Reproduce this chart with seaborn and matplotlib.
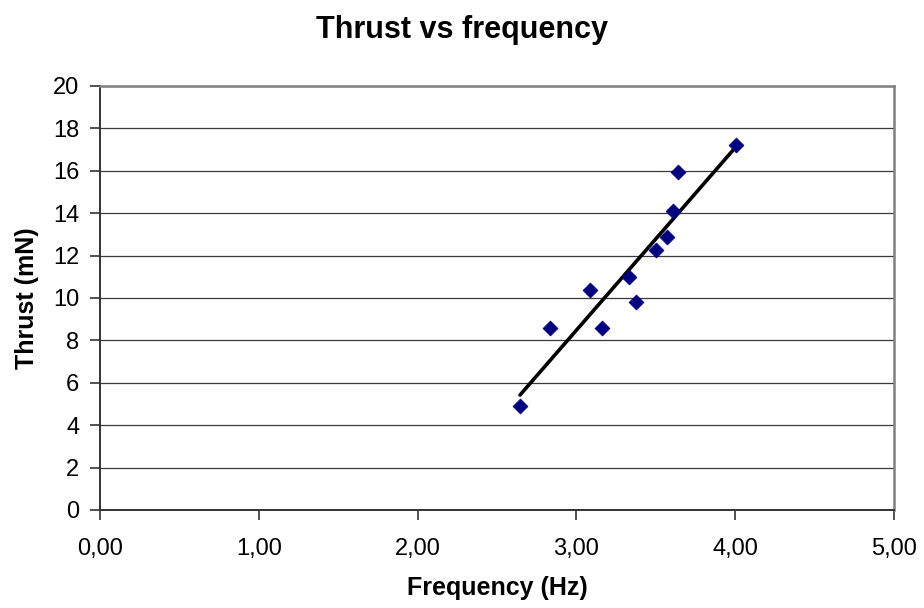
import matplotlib
matplotlib.use("Agg")
import matplotlib.pyplot as plt
import seaborn as sns
import pandas as pd
from matplotlib.ticker import FuncFormatter, MultipleLocator

frequency = [2.645, 2.834, 3.086, 3.161, 3.33, 3.375, 3.50, 3.568, 3.61, 3.64, 4.005]
thrust = [4.9, 8.58, 10.36, 8.58, 11.0, 9.81, 12.26, 12.9, 14.09, 15.94, 17.2]

df = pd.DataFrame({"Frequency (Hz)": frequency, "Thrust (mN)": thrust})

sns.set_theme(style="white")
plt.rcParams['font.family'] = ['Liberation Sans', 'DejaVu Sans']
plt.rcParams['text.color'] = 'black'
plt.rcParams['axes.labelcolor'] = 'black'

fig = plt.figure(figsize=(9.24, 6.08), dpi=100)
ax = fig.add_axes([100/924, 1-510/608, (894-100)/924, (510-86)/608])

sns.regplot(data=df, x="Frequency (Hz)", y="Thrust (mN)", ax=ax, ci=None,
            marker="D",
            scatter_kws=dict(s=58, color="#000080", edgecolor="#000080", linewidths=0.5,
                             alpha=1.0, zorder=4),
            line_kws=dict(color="black", lw=2.6, zorder=3))

ax.set_xlim(0, 5)
ax.set_ylim(0, 20)
ax.xaxis.set_major_locator(MultipleLocator(1))
ax.yaxis.set_major_locator(MultipleLocator(2))
ax.xaxis.set_major_formatter(FuncFormatter(lambda v, p: f"{v:.2f}".replace(".", ",")))
ax.yaxis.set_major_formatter(FuncFormatter(lambda v, p: f"{int(round(v))}"))

ax.grid(axis="y", color="#3a3a3a", lw=0.9)
ax.grid(axis="x", visible=False)
ax.set_axisbelow(True)

for s in ["top", "right"]:
    ax.spines[s].set_color("#808080")
    ax.spines[s].set_linewidth(1.8)
for s in ["left", "bottom"]:
    ax.spines[s].set_color("#333333")
    ax.spines[s].set_linewidth(1.4)

ax.tick_params(axis="both", which="major", direction="out", length=7, width=1.2,
               color="#333333", labelsize=17, labelcolor="black", pad=8, left=True, bottom=True)
ax.tick_params(axis="x", pad=13)

ax.set_xlabel("Frequency (Hz)", fontsize=18, fontweight="bold", labelpad=12)
ax.set_ylabel("Thrust (mN)", fontsize=18, fontweight="bold", labelpad=10)
fig.text(0.5, 1 - 30/608, "Thrust vs frequency", fontsize=22, fontweight="bold",
         ha="center", va="center", color="black")

fig.savefig("out.png", dpi=100, facecolor="white")
